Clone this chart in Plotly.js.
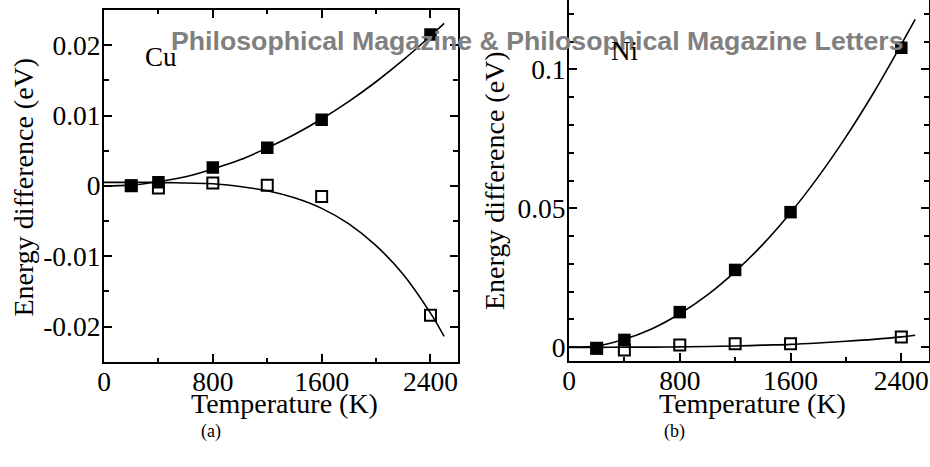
<!DOCTYPE html>
<html><head><meta charset="utf-8">
<script src="https://cdn.plot.ly/plotly-3.0.1.min.js"></script>
<style>html,body{margin:0;padding:0;background:#fff}#chart{width:930px;height:467px}</style>
</head><body><div id="chart"></div>
<script>
// ---- data ----
const temperatures = [200, 400, 800, 1200, 1600, 2400];
const cuFilled = [0.0000, 0.0005, 0.0026, 0.0054, 0.0094, 0.0215];
const cuOpen   = [0.0000, -0.0003, 0.0004, 0.0001, -0.0015, -0.0184];
const niFilled = [-0.0004, 0.0026, 0.0126, 0.0278, 0.0486, 0.1078];
const niOpen   = [-0.0004, -0.0010, 0.0008, 0.0012, 0.0012, 0.0036];

const fitT = [0, 200, 400, 600, 800, 1000, 1200, 1400, 1600, 1800, 2000, 2200, 2400, 2500];
const cuFitFilled = [0.0000, 0.0001, 0.0006, 0.0013, 0.0024, 0.0037, 0.0054, 0.0073, 0.0095, 0.0120, 0.0148, 0.0179, 0.0213, 0.0231];
const cuFitOpen   = [0.0005, 0.0005, 0.0005, 0.0004, 0.0003, -0.0001, -0.0007, -0.0017, -0.0032, -0.0054, -0.0085, -0.0126, -0.0181, -0.0214];
const niFitFilled = [0.0000, 0.0004, 0.0028, 0.0066, 0.0120, 0.0188, 0.0272, 0.0370, 0.0484, 0.0613, 0.0757, 0.0916, 0.1090, 0.1180];
const niFitOpen   = [-0.0001, -0.0001, 0.0000, 0.0000, 0.0001, 0.0002, 0.0004, 0.0007, 0.0010, 0.0015, 0.0021, 0.0028, 0.0037, 0.0043];

const xTickVals = [0, 800, 1600, 2400];
const xTickText = ['0', '800', '1600', '2400'];
const cuTickVals = [-0.02, -0.01, 0, 0.01, 0.02];
const cuTickText = ['-0.02', '-0.01', '0', '0.01', '0.02'];
const niTickVals = [0, 0.05, 0.1];
const niTickText = ['0', '0.05', '0.1'];

const watermark = 'Philosophical Magazine & Philosophical Magazine Letters';
const xTitle = 'Temperature (K)';
const yTitle = 'Energy difference (eV)';

// ---- layout helpers ----
const W = 930, H = 467;
const px = x => x / W;
const py = y => 1 - y / H;
const serif = '"Liberation Serif", "Times New Roman", serif';
const TICKFONT = {family: serif, size: 27.5, color: 'black'};

function axis(extra) {
  return Object.assign({
    showline: true, linecolor: 'black', linewidth: 2,
    ticks: 'inside', tickcolor: 'black', tickwidth: 2, ticklen: 8,
    mirror: 'ticks', showgrid: false, zeroline: false, automargin: false,
    tickfont: TICKFONT, tickmode: 'array'
  }, extra);
}
function minor(dt, len) {
  return {ticks: 'inside', tickmode: 'linear', tick0: 0, dtick: dt, ticklen: len, tickwidth: 2, tickcolor: 'black', showgrid: false};
}

const lineStyle = {color: 'black', width: 1.6, shape: 'spline'};
const filledMarker = {symbol: 'square', size: 12.5, color: 'black'};
const openMarker = {symbol: 'square-open', size: 11, color: 'black', line: {width: 2, color: 'black'}};

const traces = [
  {x: fitT, y: cuFitFilled, mode: 'lines', line: lineStyle, xaxis: 'x', yaxis: 'y', hoverinfo: 'skip'},
  {x: fitT, y: cuFitOpen, mode: 'lines', line: lineStyle, xaxis: 'x', yaxis: 'y', hoverinfo: 'skip'},
  {x: temperatures, y: cuOpen, mode: 'markers', marker: openMarker, xaxis: 'x', yaxis: 'y'},
  {x: temperatures, y: cuFilled, mode: 'markers', marker: filledMarker, xaxis: 'x', yaxis: 'y'},
  {x: fitT, y: niFitFilled, mode: 'lines', line: lineStyle, xaxis: 'x2', yaxis: 'y2', hoverinfo: 'skip'},
  {x: fitT, y: niFitOpen, mode: 'lines', line: lineStyle, xaxis: 'x2', yaxis: 'y2', hoverinfo: 'skip'},
  {x: temperatures, y: niOpen, mode: 'markers', marker: openMarker, xaxis: 'x2', yaxis: 'y2'},
  {x: temperatures, y: niFilled, mode: 'markers', marker: filledMarker, xaxis: 'x2', yaxis: 'y2'}
];

const layout = {
  width: W, height: H,
  margin: {l: 0, r: 0, t: 0, b: 0},
  paper_bgcolor: 'white', plot_bgcolor: 'white',
  showlegend: false,
  xaxis: axis({domain: [px(104), px(457.7)], range: [0, 2600], anchor: 'y', ticklabelstandoff: -6,
    tickvals: xTickVals, ticktext: xTickText, minor: minor(400, 4)}),
  yaxis: axis({domain: [py(361.7), py(10)], range: [-0.025, 0.025], anchor: 'x', ticklabelstandoff: -4,
    tickvals: cuTickVals, ticktext: cuTickText, minor: minor(0.005, 5)}),
  xaxis2: axis({domain: [px(569), px(929)], range: [0, 2600], anchor: 'y2', mirror: false, ticklabelstandoff: -6,
    tickvals: xTickVals, ticktext: xTickText, minor: minor(400, 4)}),
  xaxis3: axis({overlaying: 'x2', side: 'top', anchor: 'y2', range: [0, 2600], showline: false, mirror: false,
    showticklabels: false, tickvals: xTickVals, ticktext: xTickText, ticklen: 10, minor: minor(400, 7)}),
  yaxis2: axis({domain: [py(361), 1], range: [-0.005, 0.125], anchor: 'x2', ticklabelstandoff: -4,
    tickvals: niTickVals, ticktext: niTickText, minor: minor(0.01, 5)}),
  annotations: [
    {text: watermark, xref: 'paper', yref: 'paper', x: px(537.5), y: py(41), xanchor: 'center', yanchor: 'middle',
     showarrow: false, font: {family: '"Liberation Sans", Arial, sans-serif', size: 26.7, color: 'rgb(128,128,128)', weight: 'bold'}},
    {text: 'Cu', xref: 'paper', yref: 'paper', x: px(161), y: py(57), xanchor: 'center', yanchor: 'middle', showarrow: false,
     font: {family: serif, size: 27, color: 'black'}},
    {text: 'Ni', xref: 'paper', yref: 'paper', x: px(624), y: py(51), xanchor: 'center', yanchor: 'middle', showarrow: false,
     font: {family: serif, size: 27, color: 'black'}},
    {text: xTitle, xref: 'paper', yref: 'paper', x: px(284), y: py(403), xanchor: 'center', yanchor: 'middle', showarrow: false,
     font: {family: serif, size: 28, color: 'black'}},
    {text: xTitle, xref: 'paper', yref: 'paper', x: px(752), y: py(403), xanchor: 'center', yanchor: 'middle', showarrow: false,
     font: {family: serif, size: 28, color: 'black'}},
    {text: yTitle, xref: 'paper', yref: 'paper', x: px(22.5), y: py(187), xanchor: 'center', yanchor: 'middle', textangle: -90, showarrow: false,
     font: {family: serif, size: 28, color: 'black'}},
    {text: yTitle, xref: 'paper', yref: 'paper', x: px(494), y: py(180), xanchor: 'center', yanchor: 'middle', textangle: -90, showarrow: false,
     font: {family: serif, size: 28, color: 'black'}},
    {text: '(a)', xref: 'paper', yref: 'paper', x: px(211), y: py(431), xanchor: 'center', yanchor: 'middle', showarrow: false,
     font: {family: serif, size: 18, color: 'black'}},
    {text: '(b)', xref: 'paper', yref: 'paper', x: px(674), y: py(431), xanchor: 'center', yanchor: 'middle', showarrow: false,
     font: {family: serif, size: 18, color: 'black'}}
  ]
};

Plotly.newPlot('chart', traces, layout, {staticPlot: true, displayModeBar: false});
</script>
</body></html>
